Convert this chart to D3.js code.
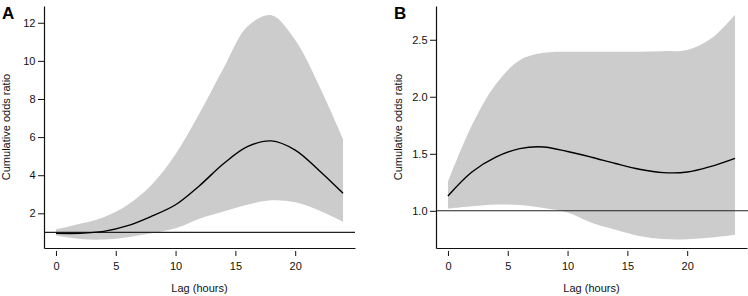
<!DOCTYPE html>
<html>
<head>
<meta charset="utf-8">
<script src="https://cdn.jsdelivr.net/npm/d3@7"></script>
<style>
  body { margin: 0; background: white; }
  svg { display: block; font-family: "Liberation Sans", Arial, sans-serif; }
</style>
</head>
<body>
<script>
'use strict';

// lag in hours, read every 2 hours off the figure
let lags = [0, 2, 4, 6, 8, 10, 12, 14, 16, 18, 20, 22, 24];

// panel A
let estA   = [0.95, 0.95, 1.05, 1.35, 1.85, 2.45, 3.45, 4.6, 5.5, 5.8, 5.32, 4.25, 3.05];
let upperA = [1.15, 1.45, 1.8, 2.45, 3.5, 5.1, 7.25, 9.6, 11.8, 12.4, 11.1, 8.7, 5.9];
let lowerA = [0.83, 0.65, 0.62, 0.75, 0.95, 1.21, 1.72, 2.1, 2.45, 2.68, 2.58, 2.15, 1.56];

// panel B
let estB   = [1.13, 1.34, 1.47, 1.545, 1.56, 1.52, 1.47, 1.415, 1.365, 1.335, 1.34, 1.39, 1.46];
let upperB = [1.255, 1.75, 2.11, 2.32, 2.385, 2.395, 2.395, 2.395, 2.395, 2.40, 2.41, 2.51, 2.72];
let lowerB = [1.02, 1.04, 1.055, 1.05, 1.025, 0.985, 0.895, 0.835, 0.78, 0.752, 0.75, 0.765, 0.79];

let xTicks = [0, 5, 10, 15, 20];
let yTicksA = [2, 4, 6, 8, 10, 12];
let yTicksB = [1.0, 1.5, 2.0, 2.5];

let width = 748;
let height = 296;
let svgContainer = "";

window.onload = function() {
  svgContainer = d3.select('body')
    .append('svg')
    .attr('width', width)
    .attr('height', height);

  drawPanel({
    label: 'A', left: 44, right: 355, refRight: 355,
    yDomain: [0.18, 12.88], yTicks: yTicksA, yFormat: d3.format('d'),
    est: estA, upper: upperA, lower: lowerA
  });
  drawPanel({
    label: 'B', left: 436, right: 747, refRight: 748,
    yDomain: [0.674, 2.796], yTicks: yTicksB, yFormat: d3.format('.1f'),
    est: estB, upper: upperB, lower: lowerB
  });
}

function drawPanel(p) {
  let top = 6, bottom = 248;
  let g = svgContainer.append('g');

  let xScale = d3.scaleLinear()
    .domain([-1, 25]) // R style padding round 0..24
    .range([p.left, p.right]);
  let yScale = d3.scaleLinear()
    .domain(p.yDomain)
    .range([bottom, top]);

  let rows = lags.map((d, i) => ({ lag: d, est: p.est[i], lo: p.lower[i], hi: p.upper[i] }));
  let curve = d3.curveCatmullRom.alpha(0.5);

  // confidence band
  let area = d3.area()
    .x(d => xScale(d.lag))
    .y0(d => yScale(d.lo))
    .y1(d => yScale(d.hi))
    .curve(curve);
  g.append('path')
    .datum(rows)
    .attr('d', area)
    .attr('fill', '#cccccc');

  // reference line at OR = 1
  g.append('line')
    .attr('x1', p.left)
    .attr('x2', p.refRight)
    .attr('y1', yScale(1))
    .attr('y2', yScale(1))
    .attr('stroke', '#222')
    .attr('stroke-width', 1.1);

  let line = d3.line()
    .x(d => xScale(d.lag))
    .y(d => yScale(d.est))
    .curve(curve);
  g.append('path')
    .datum(rows)
    .attr('d', line)
    .attr('fill', 'none')
    .attr('stroke', 'black')
    .attr('stroke-width', 1.4);

  // axes
  let xAxis = g.append('g')
    .attr('transform', 'translate(0,' + bottom + ')')
    .call(d3.axisBottom(xScale).tickValues(xTicks).tickSize(8).tickPadding(6).tickSizeOuter(0));
  xAxis.selectAll('.tick line').attr('y1', 3);

  let yAxis = g.append('g')
    .attr('transform', 'translate(' + p.left + ',0)')
    .call(d3.axisLeft(yScale).tickValues(p.yTicks).tickFormat(p.yFormat).tickSize(6).tickPadding(2.5).tickSizeOuter(0));

  [xAxis, yAxis].forEach(a => {
    a.select('.domain').attr('stroke', '#111').attr('stroke-width', 1.2);
    a.selectAll('.tick line').attr('stroke', '#111').attr('stroke-width', 1);
    a.selectAll('text')
      .attr('fill', '#111')
      .style('font-size', '11px')
      .style('font-family', '"Liberation Sans", Arial, sans-serif');
  });

  // labels
  g.append('text')
    .attr('x', (p.left + p.right) / 2)
    .attr('y', 292)
    .attr('text-anchor', 'middle')
    .style('font-size', '11px')
    .attr('fill', '#111')
    .text('Lag (hours)');

  g.append('text')
    .attr('transform', 'translate(' + (p.left - 34.5) + ',' + ((top + bottom) / 2) + ')rotate(-90)')
    .attr('text-anchor', 'middle')
    .style('font-size', '11px')
    .attr('fill', '#111')
    .text('Cumulative odds ratio');

  g.append('text')
    .attr('x', p.left - 42)
    .attr('y', 18.5)
    .style('font-size', '17px')
    .style('font-weight', 'bold')
    .attr('fill', 'black')
    .text(p.label);
}
</script>
</body>
</html>
